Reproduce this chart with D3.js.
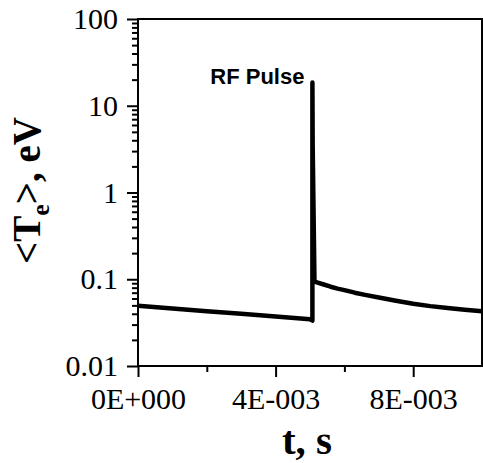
<!DOCTYPE html>
<html>
<head>
<meta charset="utf-8">
<script src="https://cdn.jsdelivr.net/npm/d3@7"></script>
<style>
  body { margin: 0; background: #fff; }
  svg { display: block; }
</style>
</head>
<body>
<div id="chart"></div>
<script>
// time (s) and mean electron temperature (eV)
const timeS = [0, 0.001, 0.002, 0.003, 0.004, 0.005, 0.00507,
  0.00507, 0.005078, 0.00513, 0.0052, 0.0054, 0.0056, 0.0058, 0.006, 0.0063, 0.0066,
  0.007, 0.0075, 0.008, 0.0085, 0.009, 0.0095, 0.01];
const tempEv = [0.0496, 0.0460, 0.0428, 0.0400, 0.0372, 0.0346, 0.0334,
  18.5, 3.5, 0.095, 0.092, 0.087, 0.082, 0.078, 0.075, 0.070, 0.066,
  0.0615, 0.0565, 0.0522, 0.0490, 0.0465, 0.0445, 0.0428];
const xMajorTicks = [0, 0.004, 0.008];
const xMinorTicks = [0.002, 0.006];
const xTickLabels = ["0E+000", "4E-003", "8E-003"];
const yMajorTicks = [0.01, 0.1, 1, 10, 100];
const yTickLabels = ["0.01", "0.1", "1", "10", "100"];

var W = 483, H = 463;
var margin = {top: 19, right: 1, bottom: 97, left: 138},
  width = W - margin.left - margin.right,
  height = H - margin.top - margin.bottom;

var svg = d3.select("#chart").append("svg")
  .attr("width", W).attr("height", H)
  .append("g")
  .attr("transform", "translate(" + margin.left + "," + margin.top + ")");

var x = d3.scaleLinear().domain([0, 0.01]).range([0, width]);
var y = d3.scaleLog().domain([0.01, 100]).range([height, 0]);

// minor log ticks 2..9 per decade
var yMinorTicks = [];
for (var d = 0; d < yMajorTicks.length - 1; d++) {
  for (var k = 2; k <= 9; k++) yMinorTicks.push(yMajorTicks[d] * k);
}

var serif = "'Liberation Serif', 'Times New Roman', serif";

// frame
svg.append("rect")
  .attr("width", width).attr("height", height)
  .attr("fill", "none").attr("stroke", "#000").attr("stroke-width", 2);

// x axis
var xAxis = svg.append("g").attr("transform", "translate(0," + height + ")")
  .call(d3.axisBottom(x).tickValues(xMajorTicks).tickSize(11).tickPadding(11)
    .tickFormat(function(v, i) { return xTickLabels[i]; }));
svg.append("g").attr("transform", "translate(0," + height + ")")
  .call(d3.axisBottom(x).tickValues(xMinorTicks).tickSize(6).tickFormat(""));

// y axis
var yAxis = svg.append("g")
  .call(d3.axisLeft(y).tickValues(yMajorTicks).tickSize(11).tickPadding(9)
    .tickFormat(function(v, i) { return yTickLabels[i]; }));
svg.append("g")
  .call(d3.axisLeft(y).tickValues(yMinorTicks).tickSize(6).tickFormat(""));

svg.selectAll(".domain").remove();
svg.selectAll(".tick line").attr("stroke", "#000").attr("stroke-width", 2);
svg.selectAll(".tick text")
  .style("font-family", serif).style("font-size", "30px").attr("fill", "#000");
xAxis.selectAll(".tick text").attr("dy", "0.71em");

// the curve
var line = d3.line()
  .x(function(d, i) { return x(timeS[i]); })
  .y(function(d) { return y(d); });
svg.append("path")
  .datum(tempEv)
  .attr("d", line)
  .attr("fill", "none")
  .attr("stroke", "#000")
  .attr("stroke-width", 4.5)
  .attr("stroke-linejoin", "round");

// annotation
svg.append("text")
  .attr("x", x(0.00507) - 8).attr("y", 65)
  .attr("text-anchor", "end")
  .style("font-family", "'Liberation Sans', Arial, sans-serif")
  .style("font-size", "22px").style("font-weight", "bold")
  .text("RF Pulse");

// axis titles
svg.append("text")
  .attr("x", width / 2 - 3).attr("y", height + 88)
  .attr("text-anchor", "middle")
  .style("font-family", serif).style("font-size", "41px").style("font-weight", "bold")
  .text("t, s");

var yt = svg.append("text")
  .attr("transform", "translate(-98," + (height / 2 - 2) + ") rotate(-90)")
  .attr("text-anchor", "middle")
  .style("font-family", serif).style("font-size", "39px").style("font-weight", "bold");
yt.append("tspan").text("<T");
yt.append("tspan").attr("dy", 9).style("font-size", "26px").text("e");
yt.append("tspan").attr("dy", -9).text(">, eV");
</script>
</body>
</html>
